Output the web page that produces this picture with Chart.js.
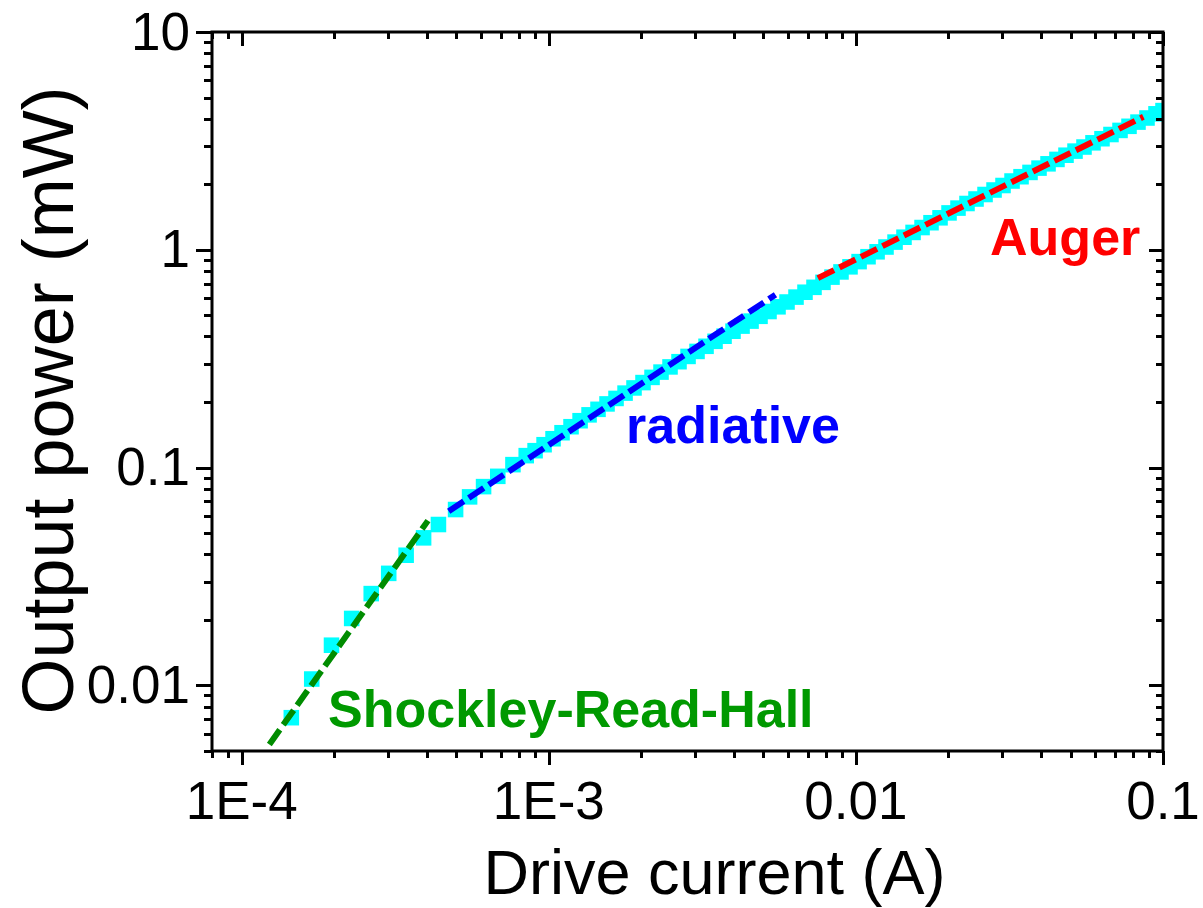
<!DOCTYPE html>
<html>
<head>
<meta charset="utf-8">
<title>Output power vs drive current</title>
<script src="https://cdn.jsdelivr.net/npm/chart.js@4/dist/chart.umd.min.js"></script>
<style>
  html, body { margin: 0; padding: 0; background: #fff; }
  #wrap { width: 1203px; height: 908px; }
</style>
</head>
<body>
<div id="wrap"><canvas id="powerChart" width="1203" height="908"></canvas></div>
<script>
// measured LED output: drive current (A) and optical power (mW)
const currentA = [
  0.000145, 0.000169, 0.000196, 0.000228, 0.000264, 0.000301, 0.000343, 0.000391,
  0.000437, 0.000497, 0.000552, 0.000613, 0.000682, 0.000764, 0.000844,
  0.000902, 0.000965, 0.001032, 0.001104, 0.001181, 0.001264, 0.001352, 0.001446,
  0.001547, 0.001655, 0.001771, 0.001894, 0.002026, 0.002168, 0.002319, 0.002481,
  0.002654, 0.002840, 0.003038, 0.003250, 0.003477, 0.003720, 0.003979, 0.004258,
  0.004555, 0.004872, 0.005212, 0.005576, 0.005965, 0.006381, 0.006826, 0.007303,
  0.007812, 0.008358, 0.008941, 0.009567, 0.01024, 0.01095, 0.01172, 0.01253,
  0.01341, 0.01434, 0.01535, 0.01642, 0.01756, 0.01879, 0.02010, 0.02150,
  0.02300, 0.02461, 0.02633, 0.02817, 0.03013, 0.03224, 0.03449, 0.03689,
  0.03947, 0.04223, 0.04516, 0.04832, 0.05170, 0.05530, 0.05916, 0.06329,
  0.06770, 0.07245, 0.07750, 0.08290, 0.08870, 0.09489, 0.1
];
const powerMW = [
  0.00711, 0.0107, 0.0153, 0.0203, 0.0264, 0.0327, 0.0396, 0.0476,
  0.0548, 0.0642, 0.0734, 0.0818, 0.0912, 0.1032, 0.1135,
  0.1196, 0.1274, 0.1357, 0.1446, 0.1541, 0.1642, 0.1747, 0.1852,
  0.1961, 0.2078, 0.2198, 0.2322, 0.2457, 0.2596, 0.2745, 0.2900,
  0.3064, 0.3240, 0.3416, 0.3606, 0.3801, 0.4012, 0.4230, 0.4464,
  0.4706, 0.4951, 0.5208, 0.5474, 0.5759, 0.6065, 0.6386, 0.6726,
  0.7091, 0.7492, 0.7915, 0.8354, 0.8826, 0.9295, 0.9791, 1.0300,
  1.0848, 1.1425, 1.2018, 1.2656, 1.3314, 1.4026, 1.4771, 1.5540,
  1.6316, 1.7110, 1.7944, 1.8818, 1.9734, 2.0694, 2.1657, 2.2663,
  2.3717, 2.4820, 2.6002, 2.7182, 2.8386, 2.9645, 3.0990, 3.2363,
  3.3832, 3.5333, 3.6898, 3.8574, 4.0285, 4.2111, 4.3563
];

// power-law fits for the three recombination regimes (end points)
const srhFitI = [0.000123, 0.000404];
const srhFitP = [0.00536, 0.0571];
const radFitI = [0.000472, 0.00547];
const radFitP = [0.0631, 0.622];
const augerFitI = [0.00752, 0.0863];
const augerFitP = [0.741, 4.08];

// axis ranges and labelled decades
const xMin = 8e-5, xMax = 0.1;
const yMin = 0.005, yMax = 10;
const xTickValues = [1e-4, 1e-3, 1e-2, 1e-1];
const xTickLabels = ['1E-4', '1E-3', '0.01', '0.1'];
const yTickValues = [0.01, 0.1, 1, 10];
const yTickLabels = ['0.01', '0.1', '1', '10'];
const xTitle = 'Drive current (A)';
const yTitle = 'Output power (mW)';

// regime labels placed in data coordinates (left edge, baseline)
const regimeNames = ['Shockley-Read-Hall', 'radiative', 'Auger'];
const regimeAtI = [0.000191, 0.001784, 0.02734];
const regimeAtP = [0.00644, 0.1297, 0.9465];

const FONT = "'Liberation Sans', Arial, Helvetica, sans-serif";
const GREEN = '#009900', BLUE = '#0000ff', RED = '#ff0000', CYAN = '#00ffff';
const regimeColors = [GREEN, BLUE, RED];

const toXY = (xs, ys) => xs.map((x, i) => ({ x: x, y: ys[i] }));

// frame plus log ticks: left/bottom point outwards, top/right point inwards
const frameTicks = {
  id: 'frameTicks',
  afterDatasetsDraw(chart) {
    const { ctx, chartArea: a, scales } = chart;
    const major = 14, minor = 7;
    ctx.save();
    ctx.strokeStyle = '#000';
    ctx.lineWidth = 3;
    ctx.lineCap = 'butt';
    ctx.beginPath();
    ctx.rect(a.left, a.top, a.right - a.left, a.bottom - a.top);
    ctx.stroke();

    const decadeSteps = (min, max, cb) => {
      for (let e = Math.floor(Math.log10(min)); e <= Math.ceil(Math.log10(max)); e++) {
        for (let k = 1; k <= 9; k++) {
          const v = k * Math.pow(10, e);
          if (v < min * 0.999 || v > max * 1.001) continue;
          cb(v, k === 1);
        }
      }
    };
    ctx.beginPath();
    decadeSteps(xMin, xMax, (v, isMajor) => {
      const px = Math.round(scales.x.getPixelForValue(v)) + 0.5;
      const len = isMajor ? major : minor;
      ctx.moveTo(px, a.bottom); ctx.lineTo(px, a.bottom + len);
      ctx.moveTo(px, a.top); ctx.lineTo(px, a.top + len);
    });
    decadeSteps(yMin, yMax, (v, isMajor) => {
      const py = Math.round(scales.y.getPixelForValue(v)) + 0.5;
      const len = isMajor ? major + 2 : minor + 1;
      ctx.moveTo(a.left, py); ctx.lineTo(a.left - len, py);
      ctx.moveTo(a.right, py); ctx.lineTo(a.right - (isMajor ? major : minor), py);
    });
    ctx.stroke();

    // decade labels and axis titles
    ctx.fillStyle = '#000';
    ctx.font = '53px ' + FONT;
    ctx.textAlign = 'center';
    ctx.textBaseline = 'alphabetic';
    xTickValues.forEach((v, i) => {
      ctx.fillText(xTickLabels[i], scales.x.getPixelForValue(v), a.bottom + 68);
    });
    ctx.textAlign = 'right';
    ctx.textBaseline = 'middle';
    yTickValues.forEach((v, i) => {
      ctx.fillText(yTickLabels[i], a.left - 22, scales.y.getPixelForValue(v) + 3);
    });

    ctx.textAlign = 'center';
    ctx.textBaseline = 'alphabetic';
    ctx.font = '63px ' + FONT;
    ctx.fillText(xTitle, (a.left + a.right) / 2 + 27, a.bottom + 143);
    ctx.translate(73, (a.top + a.bottom) / 2 + 9);
    ctx.rotate(-Math.PI / 2);
    ctx.font = '72px ' + FONT;
    ctx.fillText(yTitle, 0, 0);
    ctx.restore();
  }
};

// bold coloured names next to each fitted segment
const regimeText = {
  id: 'regimeText',
  afterDraw(chart) {
    const { ctx, scales } = chart;
    ctx.save();
    ctx.font = 'bold 52px ' + FONT;
    ctx.textAlign = 'left';
    ctx.textBaseline = 'alphabetic';
    regimeNames.forEach((name, i) => {
      ctx.fillStyle = regimeColors[i];
      ctx.fillText(name, scales.x.getPixelForValue(regimeAtI[i]), scales.y.getPixelForValue(regimeAtP[i]));
    });
    ctx.restore();
  }
};

const fitLine = (label, xs, ys, color) => ({
  label: label,
  type: 'line',
  data: toXY(xs, ys),
  borderColor: color,
  borderWidth: 6,
  borderDash: [18, 6],
  pointRadius: 0,
  fill: false,
  clip: 0
});

new Chart(document.getElementById('powerChart'), {
  type: 'scatter',
  data: {
    datasets: [
      fitLine('SRH fit', srhFitI, srhFitP, '#008c00'),
      fitLine('radiative fit', radFitI, radFitP, BLUE),
      fitLine('Auger fit', augerFitI, augerFitP, RED),
      {
        label: 'measured',
        data: toXY(currentA, powerMW),
        pointStyle: 'rect',
        pointRadius: 11,
        pointHoverRadius: 11,
        borderWidth: 0,
        backgroundColor: CYAN,
        clip: 0
      }
    ]
  },
  options: {
    responsive: false,
    devicePixelRatio: 1,
    animation: false,
    layout: { padding: { left: 0, top: 32, right: 40, bottom: 0 } },
    plugins: { legend: { display: false }, tooltip: { enabled: false } },
    scales: {
      x: {
        type: 'logarithmic',
        min: xMin,
        max: xMax,
        grid: { display: false, drawTicks: false },
        border: { display: false },
        ticks: { display: false },
        afterFit: (s) => { s.height = 157; }
      },
      y: {
        type: 'logarithmic',
        min: yMin,
        max: yMax,
        grid: { display: false, drawTicks: false },
        border: { display: false },
        ticks: { display: false },
        afterFit: (s) => { s.width = 212; }
      }
    }
  },
  plugins: [frameTicks, regimeText]
});
</script>
</body>
</html>
